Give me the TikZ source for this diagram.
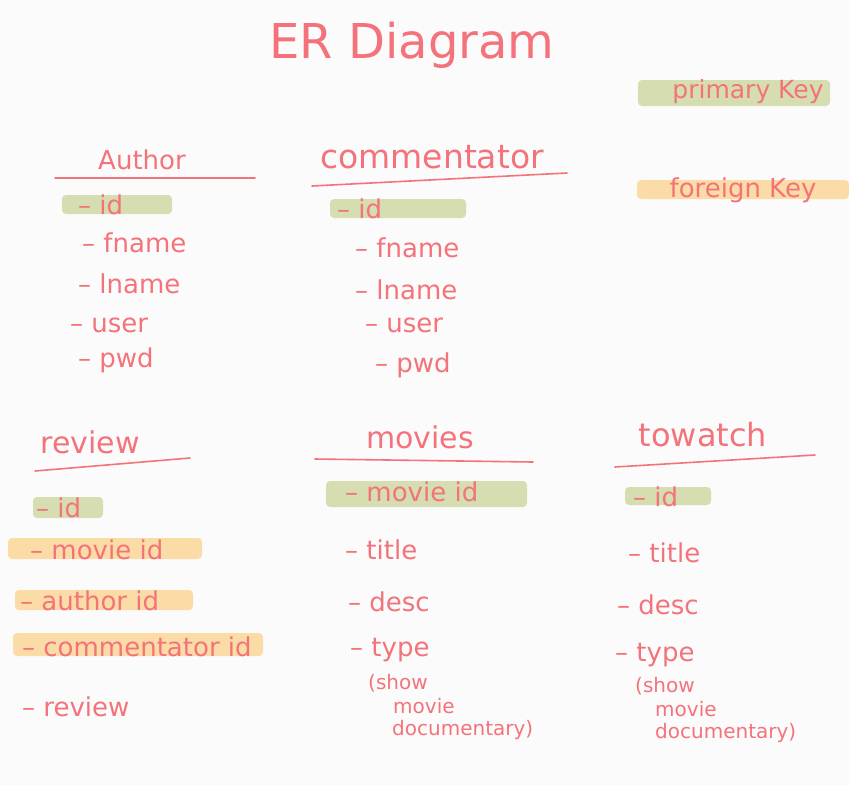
\documentclass[tikz,border=0pt]{standalone}
\usepackage{fontspec}
\setmainfont{DejaVu Sans}
\usetikzlibrary{positioning}

\definecolor{ink}{HTML}{F4737B}
\definecolor{pkgreen}{HTML}{D5DDB1}
\definecolor{fkorange}{HTML}{FCDCA6}
\definecolor{paper}{HTML}{FBFBFB}

\tikzset{
  attr/.style={anchor=west, text=ink, inner sep=0pt, font=\fontsize{26}{26}\selectfont},
  subattr/.style={anchor=west, text=ink, inner sep=0pt, font=\fontsize{20}{20}\selectfont},
  entity/.style={text=ink, inner sep=0pt, font=\fontsize{30}{30}\selectfont},
  rule/.style={draw=ink, line width=1.6pt, line cap=round},
  pkbar/.style={fill=pkgreen, rounded corners=4pt},
  fkbar/.style={fill=fkorange, rounded corners=4pt}
}

\begin{document}
\begin{tikzpicture}[x=1pt,y=-1pt]

	\fill[paper] (0,0) rectangle (849,785);
	\useasboundingbox (0,0) rectangle (849,785);

	% title and key legend
	\node[entity, font=\fontsize{48}{48}\selectfont] (title) at (412,45) {ER Diagram};

	\fill[pkbar] (638,80) rectangle (830,106);
	\node[entity, font=\fontsize{25}{25}\selectfont] (pklegend) at (748,92) {primary Key};
	\fill[fkbar] (637,180) rectangle (849,199);
	\node[entity, font=\fontsize{26}{26}\selectfont] (fklegend) at (743,190) {foreign Key};

	% highlight bars
	\fill[pkbar] (62,195) rectangle (172,214);
	\fill[pkbar] (330,199) rectangle (466,218);
	\fill[pkbar] (33,497) rectangle (103,518);
	\fill[fkbar] (8,538) rectangle (202,559);
	\fill[fkbar] (15,590) rectangle (193,610);
	\fill[fkbar] (13,633) rectangle (263,656);
	\fill[pkbar] (326,481) rectangle (527,507);
	\fill[pkbar] (625,487) rectangle (711,505);

	% Author
	\node[entity, font=\fontsize{26}{26}\selectfont] (author) at (142,160) {Author};
	\draw[rule] (55,178) -- (255,178);
	\foreach \name/\x/\y/\txt in {aid/78/205/id, afname/82/243/fname, alname/78/284/lname, auser/70/325/user, apwd/78/360/pwd} {
		\node[attr] (\name) at (\x,\y) {– \txt};
	}

	% commentator
	\node[entity, font=\fontsize{33}{33}\selectfont] (commentator) at (432,157) {commentator};
	\draw[rule] (312,186) -- (567,173);
	\foreach \name/\x/\y/\txt in {cid/337/209/id, cfname/355/248/fname, clname/355/290/lname, cuser/365/325/user, cpwd/375/365/pwd} {
		\node[attr] (\name) at (\x,\y) {– \txt};
	}

	% review
	\node[entity] (review) at (90,442) {review};
	\draw[rule] (35,471) -- (190,458);
	\foreach \name/\x/\y/\txt in {rid/36/508/id, rmovie/30/550/movie id, rauthor/20/601/author id, rcomm/22/647/commentator id, rreview/22/707/review} {
		\node[attr] (\name) at (\x,\y) {– \txt};
	}

	% movies
	\node[entity] (movies) at (420,437) {movies};
	\draw[rule] (315,459) -- (533,462);
	\foreach \name/\x/\y/\txt in {mid/345/492/movie id, mtitle/345/550/title, mdesc/348/602/desc, mtype/350/650/type} {
		\node[attr] (\name) at (\x,\y) {– \txt};
	}
	\foreach \name/\x/\y/\txt in {mshow/368/683/(show, mmovie/393/706/movie, mdoc/392/730/documentary)} {
		\node[subattr] (\name) at (\x,\y) {\txt};
	}

	% towatch
	\node[entity, font=\fontsize{32}{32}\selectfont] (towatch) at (703,435) {towatch};
	\draw[rule] (615,467) -- (815,455);
	\foreach \name/\x/\y/\txt in {tid/633/497/id, ttitle/628/553/title, tdesc/617/605/desc, ttype/615/655/type} {
		\node[attr] (\name) at (\x,\y) {– \txt};
	}
	\foreach \name/\x/\y/\txt in {tshow/635/686/(show, tmovie/655/709/movie, tdoc/655/733/documentary)} {
		\node[subattr] (\name) at (\x,\y) {\txt};
	}

\end{tikzpicture}
\end{document}
